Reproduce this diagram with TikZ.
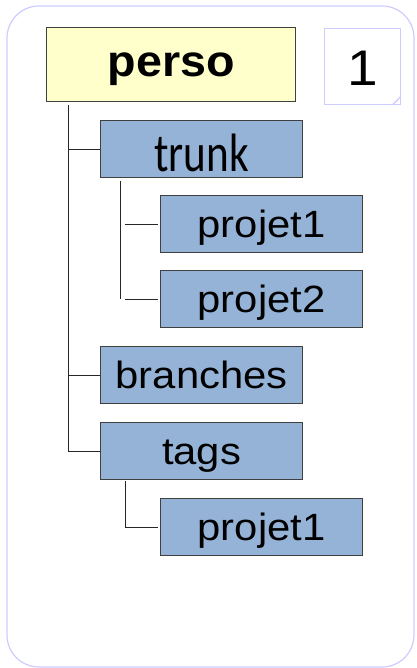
\documentclass[tikz,border=0pt]{standalone}
\usepackage{fontspec}
\setmainfont{Liberation Sans}
\newfontfamily\trunkfont{Carlito}
\definecolor{folderblue}{HTML}{95B3D7}
\definecolor{rootyellow}{HTML}{FFFFCC}
\definecolor{framelav}{HTML}{CCCCFF}
\definecolor{edgegray}{HTML}{404040}
\newcommand{\wide}[1]{\scalebox{1.1}[1]{#1}}
\tikzset{
  x=1pt, y=-1pt,
  folder/.style={draw=edgegray, line width=1.2pt, fill=folderblue, minimum width=202pt, minimum height=57pt,
    inner sep=0pt, text height=31pt, text depth=4pt, font=\fontsize{38}{46}\selectfont, anchor=north west},
  rootbox/.style={draw=edgegray, line width=1.2pt, fill=rootyellow, minimum width=249pt, minimum height=74pt,
    inner sep=0pt, text height=27pt, text depth=4pt, font=\fontsize{44}{52}\selectfont\bfseries, anchor=north west},
  link/.style={draw=black!85, line width=1pt},
}
\begin{document}
\begin{tikzpicture}
\useasboundingbox (0,0) rectangle (416,668);
% outer frame
\draw[framelav, line width=1.2pt, rounded corners=32pt] (7,6) rectangle (414,667);

% root and note
\node[rootbox] (perso) at (46,27) {\scalebox{1.06}[1]{perso}};
\node[draw=framelav, line width=1pt, minimum width=76pt, minimum height=76pt, inner sep=0pt,
  text height=42pt, text depth=4pt, anchor=north west, font=\fontsize{50}{58}\selectfont] (num) at (324,28) {\wide{1}};
\draw[framelav, line width=0.8pt] ([xshift=-9pt]num.south east) -- ([yshift=9pt]num.south east)
  -- ([xshift=-4pt,yshift=4pt]num.south east) -- cycle;

% folders
\node[folder, text height=50pt, text depth=5pt, font=\fontsize{54}{60}\trunkfont] (trunk) at (100,120) {\scalebox{0.8}[1]{trunk}};
\node[folder] (p1) at (160,195) {\wide{projet1}};
\node[folder] (p2) at (160,270) {\wide{projet2}};
\node[folder] (branches) at (100,346) {\wide{branches}};
\node[folder] (tags) at (100,422) {\wide{tags}};
\node[folder] (tp1) at (160,498) {\wide{projet1}};

% tree lines under perso
\coordinate (rootdown) at ([xshift=22pt,yshift=-3pt]perso.south west);
\coordinate (rootend) at (rootdown |- tags.west);
\draw[link] (rootdown) -- (rootend) -- (tags.west);
\draw[link] (rootdown |- trunk.west) -- (trunk.west);
\draw[link] (rootdown |- branches.west) -- (branches.west);

% tree lines under trunk
\coordinate (trunkdown) at ([xshift=20pt,yshift=-3pt]trunk.south west);
\draw[link] (trunkdown) -- (trunkdown |- p2.west);
\draw[link] ([xshift=5pt]trunkdown |- p1.west) -- ([xshift=-2pt]p1.west);
\draw[link] ([xshift=5pt]trunkdown |- p2.west) -- ([xshift=-2pt]p2.west);

% tree lines under tags
\coordinate (tagsdown) at ([xshift=25pt,yshift=-1pt]tags.south west);
\draw[link] (tagsdown) -- (tagsdown |- tp1.west) -- ([xshift=-2pt]tp1.west);
\end{tikzpicture}
\end{document}
